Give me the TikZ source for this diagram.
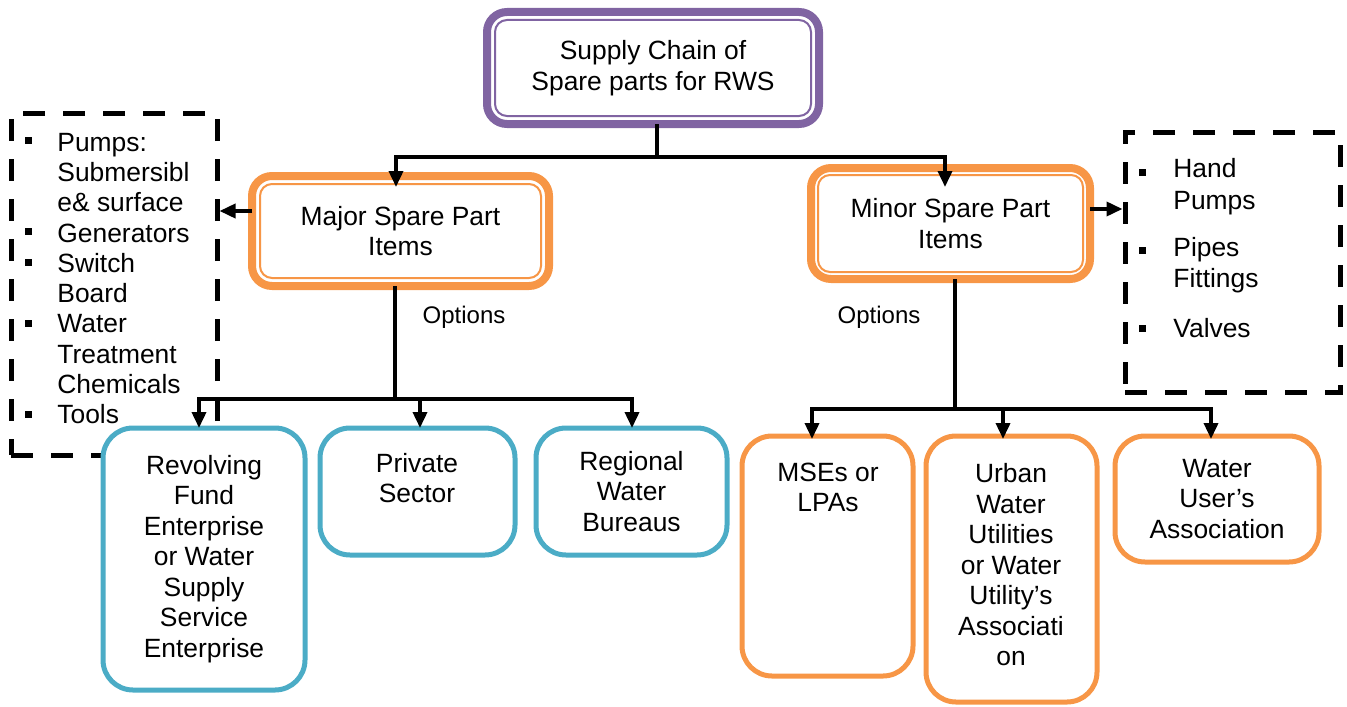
\documentclass[tikz,border=0pt]{standalone}
\usepackage{fontspec}
\setmainfont{Liberation Sans}
\usetikzlibrary{arrows.meta,calc}
\definecolor{cpurple}{HTML}{8064A2}
\definecolor{corange}{HTML}{F79646}
\definecolor{cblue}{HTML}{4BACC6}
\begin{document}
\begin{tikzpicture}[x=0.5pt,y=-0.5pt,
  every node/.style={font=\fontsize{13.2}{15.25}\selectfont, inner sep=0pt},
  dblbox/.style={draw, line width=4pt, rounded corners=10pt, outer sep=0pt, align=center, fill=white},
  innerline/.style={line width=1pt, rounded corners=6pt},
  optbox/.style={draw, line width=2.5pt, rounded corners=15pt, outer sep=0pt, align=center, fill=white},
  dashbox/.style={draw, line width=2.5pt, dash pattern=on 11pt off 9pt},
  txt/.style={align=center},
  listtxt/.style={align=left, anchor=west, font=\fontsize{13.2}{15.15}\selectfont},
  conn/.style={line width=1.8pt},
  arr/.style={conn, -{Triangle[length=8pt,width=7pt]}},
  optlabel/.style={font=\fontsize{12}{14}\selectfont}
]
\useasboundingbox (0,0) rectangle (1347,706);

% dashed lists
\node[dashbox, minimum width=103pt, minimum height=171pt] (ldash) at (114,284) {};
\node[dashbox, minimum width=107.5pt, minimum height=130pt] (rdash) at (1232.5,262) {};

\node[listtxt] (llist) at (57,278.5) {Pumps:\\Submersibl\\e\& surface\\Generators\\Switch\\Board\\Water\\Treatment\\Chemicals\\Tools};
\foreach \yy in {140,231,262,323,414} \fill (28,\yy) +(-3.5,-3.5) rectangle +(3.5,3.5);

\node[listtxt, font=\fontsize{13.2}{16}\selectfont] (r1) at (1173,187) {Hand\\Pumps};
\node[listtxt, font=\fontsize{13.2}{15.2}\selectfont] (r2) at (1173,265) {Pipes\\Fittings};
\node[listtxt] (r3) at (1173,328) {Valves};
\foreach \yy in {172,250,328} \fill (1142,\yy) +(-3.5,-3.5) rectangle +(3.5,3.5);

% top level
\node[dblbox, draw=cpurple, minimum width=166pt, minimum height=56pt] (top) at (653,68) {Supply Chain of\\Spare parts for RWS};
\draw[innerline, cpurple] ($(top.south west)+(4pt,4pt)$) rectangle ($(top.north east)+(-4pt,-4pt)$);

\node[dblbox, draw=corange, minimum width=148.5pt, minimum height=55pt] (major) at (400.5,231) {Major Spare Part\\Items};
\draw[innerline, corange] ($(major.south west)+(4pt,4pt)$) rectangle ($(major.north east)+(-4pt,-4pt)$);

\node[dblbox, draw=corange, minimum width=139.5pt, minimum height=55.5pt] (minor) at (950.5,223.5) {Minor Spare Part\\Items};
\draw[innerline, corange] ($(minor.south west)+(3.5pt,3.5pt)$) rectangle ($(minor.north east)+(-3.5pt,-3.5pt)$);

% options
\node[optbox, draw=cblue, minimum width=101pt, minimum height=131pt] (rev) at (204,559) {Revolving\\Fund\\Enterprise\\or Water\\Supply\\Service\\Enterprise};
\node[optbox, draw=cblue, minimum width=97.5pt, minimum height=63.5pt] (priv) at (417.5,491.5) {};
\node[txt] (privt) at (417,478) {Private\\Sector};
\node[optbox, draw=cblue, minimum width=95.5pt, minimum height=63.5pt] (reg) at (631.5,491.5) {Regional\\Water\\Bureaus};

\node[optbox, draw=corange, minimum width=85.5pt, minimum height=120pt] (mse) at (827.5,556) {};
\node[txt] (mset) at (828,487.5) {MSEs or\\LPAs};
\node[optbox, draw=corange, minimum width=85.5pt, minimum height=133pt] (urb) at (1011.5,569) {};
\node[txt] (urbt) at (1011,565) {Urban\\Water\\Utilities\\or Water\\Utility’s\\Associati\\on};
\node[optbox, draw=corange, minimum width=102pt, minimum height=63pt] (wua) at (1217,499) {Water\\User’s\\Association};

\node[optlabel] (opt1) at (464,317) {Options};
\node[optlabel] (opt2) at (879,317) {Options};

% connectors
\coordinate (j1) at (657,157);
\coordinate (xa) at (396,0);
\coordinate (xb) at (945,0);
\draw[conn] (top.south -| j1) -- (j1);
\draw[arr, shorten >=-5.5pt] (j1) -| (major.north -| xa);
\draw[arr, shorten >=-9.5pt] (j1) -| (minor.north -| xb);

\coordinate (yl) at (0,211);
\coordinate (yr) at (0,209);
\draw[arr] (major.west |- yl) -- (ldash.east |- yl);
\draw[arr] (minor.east |- yr) -- (rdash.west |- yr);

\coordinate (jM) at (395,399);
\coordinate (x1) at (199,0);
\coordinate (x2) at (420,0);
\coordinate (x3) at (632,0);
\draw[conn] (major.south -| jM) -- (jM);
\draw[arr] (jM) -| (rev.north -| x1);
\draw[arr] (jM) -| (priv.north -| x2);
\draw[arr] (jM) -| (reg.north -| x3);

\coordinate (jm) at (955,409);
\coordinate (x4) at (812,0);
\coordinate (x5) at (1003,0);
\coordinate (x6) at (1211,0);
\draw[conn] (minor.south -| jm) -- (jm);
\draw[arr, shorten >=-1.5pt] (jm) -| (mse.north -| x4);
\draw[arr, shorten >=-1.5pt] (jm) -| (urb.north -| x5);
\draw[arr, shorten >=-1.5pt] (jm) -| (wua.north -| x6);
\end{tikzpicture}
\end{document}
